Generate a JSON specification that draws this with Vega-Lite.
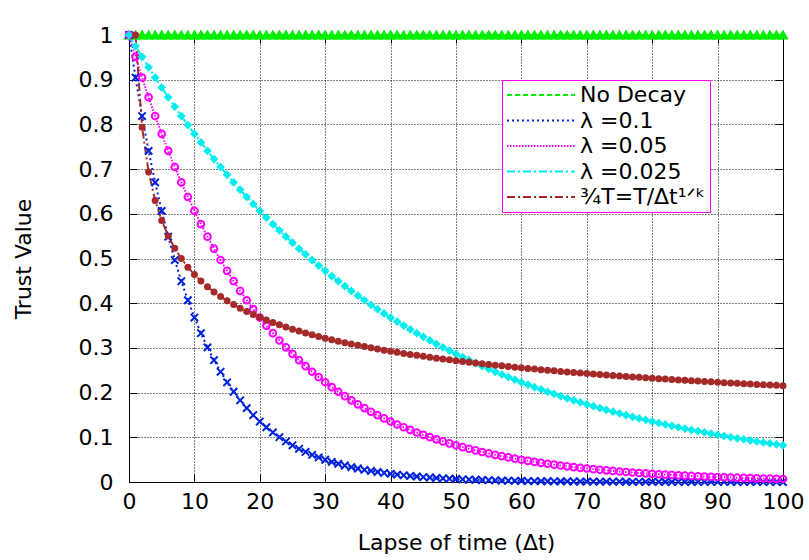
{
"$schema": "https://vega.github.io/schema/vega-lite/v6.json",
"width": 654, "height": 447,
"autosize": {"type": "none"},
"padding": {"left": 129, "top": 35, "right": 26, "bottom": 78},
"background": "white",
"config": {
  "view": {"stroke": "black", "strokeWidth": 1},
  "font": "DejaVu Sans",
  "legend": {"strokeWidth": 1, "strokeColor": "#ff00ff", "fillColor": "white"},
  "axis": {"labelFont": "DejaVu Sans", "titleFont": "DejaVu Sans", "labelFontSize": 22, "titleFontSize": 22, "titleFontWeight": "normal", "labelColor": "black", "titleColor": "black", "domainColor": "black", "tickColor": "black", "tickWidth": 1, "labelFlush": false, "labelOverlap": false}
},
"data": {"values": [
{"s":"nd","t":0,"v":1},{"s":"nd","t":1,"v":1},{"s":"nd","t":2,"v":1},{"s":"nd","t":3,"v":1},{"s":"nd","t":4,"v":1},{"s":"nd","t":5,"v":1},{"s":"nd","t":6,"v":1},{"s":"nd","t":7,"v":1},{"s":"nd","t":8,"v":1},{"s":"nd","t":9,"v":1},
{"s":"nd","t":10,"v":1},{"s":"nd","t":11,"v":1},{"s":"nd","t":12,"v":1},{"s":"nd","t":13,"v":1},{"s":"nd","t":14,"v":1},{"s":"nd","t":15,"v":1},{"s":"nd","t":16,"v":1},{"s":"nd","t":17,"v":1},{"s":"nd","t":18,"v":1},{"s":"nd","t":19,"v":1},
{"s":"nd","t":20,"v":1},{"s":"nd","t":21,"v":1},{"s":"nd","t":22,"v":1},{"s":"nd","t":23,"v":1},{"s":"nd","t":24,"v":1},{"s":"nd","t":25,"v":1},{"s":"nd","t":26,"v":1},{"s":"nd","t":27,"v":1},{"s":"nd","t":28,"v":1},{"s":"nd","t":29,"v":1},
{"s":"nd","t":30,"v":1},{"s":"nd","t":31,"v":1},{"s":"nd","t":32,"v":1},{"s":"nd","t":33,"v":1},{"s":"nd","t":34,"v":1},{"s":"nd","t":35,"v":1},{"s":"nd","t":36,"v":1},{"s":"nd","t":37,"v":1},{"s":"nd","t":38,"v":1},{"s":"nd","t":39,"v":1},
{"s":"nd","t":40,"v":1},{"s":"nd","t":41,"v":1},{"s":"nd","t":42,"v":1},{"s":"nd","t":43,"v":1},{"s":"nd","t":44,"v":1},{"s":"nd","t":45,"v":1},{"s":"nd","t":46,"v":1},{"s":"nd","t":47,"v":1},{"s":"nd","t":48,"v":1},{"s":"nd","t":49,"v":1},
{"s":"nd","t":50,"v":1},{"s":"nd","t":51,"v":1},{"s":"nd","t":52,"v":1},{"s":"nd","t":53,"v":1},{"s":"nd","t":54,"v":1},{"s":"nd","t":55,"v":1},{"s":"nd","t":56,"v":1},{"s":"nd","t":57,"v":1},{"s":"nd","t":58,"v":1},{"s":"nd","t":59,"v":1},
{"s":"nd","t":60,"v":1},{"s":"nd","t":61,"v":1},{"s":"nd","t":62,"v":1},{"s":"nd","t":63,"v":1},{"s":"nd","t":64,"v":1},{"s":"nd","t":65,"v":1},{"s":"nd","t":66,"v":1},{"s":"nd","t":67,"v":1},{"s":"nd","t":68,"v":1},{"s":"nd","t":69,"v":1},
{"s":"nd","t":70,"v":1},{"s":"nd","t":71,"v":1},{"s":"nd","t":72,"v":1},{"s":"nd","t":73,"v":1},{"s":"nd","t":74,"v":1},{"s":"nd","t":75,"v":1},{"s":"nd","t":76,"v":1},{"s":"nd","t":77,"v":1},{"s":"nd","t":78,"v":1},{"s":"nd","t":79,"v":1},
{"s":"nd","t":80,"v":1},{"s":"nd","t":81,"v":1},{"s":"nd","t":82,"v":1},{"s":"nd","t":83,"v":1},{"s":"nd","t":84,"v":1},{"s":"nd","t":85,"v":1},{"s":"nd","t":86,"v":1},{"s":"nd","t":87,"v":1},{"s":"nd","t":88,"v":1},{"s":"nd","t":89,"v":1},
{"s":"nd","t":90,"v":1},{"s":"nd","t":91,"v":1},{"s":"nd","t":92,"v":1},{"s":"nd","t":93,"v":1},{"s":"nd","t":94,"v":1},{"s":"nd","t":95,"v":1},{"s":"nd","t":96,"v":1},{"s":"nd","t":97,"v":1},{"s":"nd","t":98,"v":1},{"s":"nd","t":99,"v":1},{"s":"nd","t":100,"v":1},
{"s":"l1","t":0,"v":1},{"s":"l1","t":1,"v":0.9048},{"s":"l1","t":2,"v":0.8187},{"s":"l1","t":3,"v":0.7408},{"s":"l1","t":4,"v":0.6703},{"s":"l1","t":5,"v":0.6065},{"s":"l1","t":6,"v":0.5488},{"s":"l1","t":7,"v":0.4966},{"s":"l1","t":8,"v":0.4493},{"s":"l1","t":9,"v":0.4066},
{"s":"l1","t":10,"v":0.3679},{"s":"l1","t":11,"v":0.3329},{"s":"l1","t":12,"v":0.3012},{"s":"l1","t":13,"v":0.2725},{"s":"l1","t":14,"v":0.2466},{"s":"l1","t":15,"v":0.2231},{"s":"l1","t":16,"v":0.2019},{"s":"l1","t":17,"v":0.1827},{"s":"l1","t":18,"v":0.1653},{"s":"l1","t":19,"v":0.1496},
{"s":"l1","t":20,"v":0.1353},{"s":"l1","t":21,"v":0.1225},{"s":"l1","t":22,"v":0.1108},{"s":"l1","t":23,"v":0.1003},{"s":"l1","t":24,"v":0.0907},{"s":"l1","t":25,"v":0.0821},{"s":"l1","t":26,"v":0.0743},{"s":"l1","t":27,"v":0.0672},{"s":"l1","t":28,"v":0.0608},{"s":"l1","t":29,"v":0.055},
{"s":"l1","t":30,"v":0.0498},{"s":"l1","t":31,"v":0.045},{"s":"l1","t":32,"v":0.0408},{"s":"l1","t":33,"v":0.0369},{"s":"l1","t":34,"v":0.0334},{"s":"l1","t":35,"v":0.0302},{"s":"l1","t":36,"v":0.0273},{"s":"l1","t":37,"v":0.0247},{"s":"l1","t":38,"v":0.0224},{"s":"l1","t":39,"v":0.0202},
{"s":"l1","t":40,"v":0.0183},{"s":"l1","t":41,"v":0.0166},{"s":"l1","t":42,"v":0.015},{"s":"l1","t":43,"v":0.0136},{"s":"l1","t":44,"v":0.0123},{"s":"l1","t":45,"v":0.0111},{"s":"l1","t":46,"v":0.0101},{"s":"l1","t":47,"v":0.0091},{"s":"l1","t":48,"v":0.0082},{"s":"l1","t":49,"v":0.0074},
{"s":"l1","t":50,"v":0.0067},{"s":"l1","t":51,"v":0.0061},{"s":"l1","t":52,"v":0.0055},{"s":"l1","t":53,"v":0.005},{"s":"l1","t":54,"v":0.0045},{"s":"l1","t":55,"v":0.0041},{"s":"l1","t":56,"v":0.0037},{"s":"l1","t":57,"v":0.0033},{"s":"l1","t":58,"v":0.003},{"s":"l1","t":59,"v":0.0027},
{"s":"l1","t":60,"v":0.0025},{"s":"l1","t":61,"v":0.0022},{"s":"l1","t":62,"v":0.002},{"s":"l1","t":63,"v":0.0018},{"s":"l1","t":64,"v":0.0017},{"s":"l1","t":65,"v":0.0015},{"s":"l1","t":66,"v":0.0014},{"s":"l1","t":67,"v":0.0012},{"s":"l1","t":68,"v":0.0011},{"s":"l1","t":69,"v":0.001},
{"s":"l1","t":70,"v":0.0009},{"s":"l1","t":71,"v":0.0008},{"s":"l1","t":72,"v":0.0007},{"s":"l1","t":73,"v":0.0007},{"s":"l1","t":74,"v":0.0006},{"s":"l1","t":75,"v":0.0006},{"s":"l1","t":76,"v":0.0005},{"s":"l1","t":77,"v":0.0005},{"s":"l1","t":78,"v":0.0004},{"s":"l1","t":79,"v":0.0004},
{"s":"l1","t":80,"v":0.0003},{"s":"l1","t":81,"v":0.0003},{"s":"l1","t":82,"v":0.0003},{"s":"l1","t":83,"v":0.0002},{"s":"l1","t":84,"v":0.0002},{"s":"l1","t":85,"v":0.0002},{"s":"l1","t":86,"v":0.0002},{"s":"l1","t":87,"v":0.0002},{"s":"l1","t":88,"v":0.0002},{"s":"l1","t":89,"v":0.0001},
{"s":"l1","t":90,"v":0.0001},{"s":"l1","t":91,"v":0.0001},{"s":"l1","t":92,"v":0.0001},{"s":"l1","t":93,"v":0.0001},{"s":"l1","t":94,"v":0.0001},{"s":"l1","t":95,"v":0.0001},{"s":"l1","t":96,"v":0.0001},{"s":"l1","t":97,"v":0.0001},{"s":"l1","t":98,"v":0.0001},{"s":"l1","t":99,"v":0.0001},{"s":"l1","t":100,"v":0},
{"s":"l2","t":0,"v":1},{"s":"l2","t":1,"v":0.9512},{"s":"l2","t":2,"v":0.9048},{"s":"l2","t":3,"v":0.8607},{"s":"l2","t":4,"v":0.8187},{"s":"l2","t":5,"v":0.7788},{"s":"l2","t":6,"v":0.7408},{"s":"l2","t":7,"v":0.7047},{"s":"l2","t":8,"v":0.6703},{"s":"l2","t":9,"v":0.6376},
{"s":"l2","t":10,"v":0.6065},{"s":"l2","t":11,"v":0.5769},{"s":"l2","t":12,"v":0.5488},{"s":"l2","t":13,"v":0.522},{"s":"l2","t":14,"v":0.4966},{"s":"l2","t":15,"v":0.4724},{"s":"l2","t":16,"v":0.4493},{"s":"l2","t":17,"v":0.4274},{"s":"l2","t":18,"v":0.4066},{"s":"l2","t":19,"v":0.3867},
{"s":"l2","t":20,"v":0.3679},{"s":"l2","t":21,"v":0.3499},{"s":"l2","t":22,"v":0.3329},{"s":"l2","t":23,"v":0.3166},{"s":"l2","t":24,"v":0.3012},{"s":"l2","t":25,"v":0.2865},{"s":"l2","t":26,"v":0.2725},{"s":"l2","t":27,"v":0.2592},{"s":"l2","t":28,"v":0.2466},{"s":"l2","t":29,"v":0.2346},
{"s":"l2","t":30,"v":0.2231},{"s":"l2","t":31,"v":0.2122},{"s":"l2","t":32,"v":0.2019},{"s":"l2","t":33,"v":0.192},{"s":"l2","t":34,"v":0.1827},{"s":"l2","t":35,"v":0.1738},{"s":"l2","t":36,"v":0.1653},{"s":"l2","t":37,"v":0.1572},{"s":"l2","t":38,"v":0.1496},{"s":"l2","t":39,"v":0.1423},
{"s":"l2","t":40,"v":0.1353},{"s":"l2","t":41,"v":0.1287},{"s":"l2","t":42,"v":0.1225},{"s":"l2","t":43,"v":0.1165},{"s":"l2","t":44,"v":0.1108},{"s":"l2","t":45,"v":0.1054},{"s":"l2","t":46,"v":0.1003},{"s":"l2","t":47,"v":0.0954},{"s":"l2","t":48,"v":0.0907},{"s":"l2","t":49,"v":0.0863},
{"s":"l2","t":50,"v":0.0821},{"s":"l2","t":51,"v":0.0781},{"s":"l2","t":52,"v":0.0743},{"s":"l2","t":53,"v":0.0707},{"s":"l2","t":54,"v":0.0672},{"s":"l2","t":55,"v":0.0639},{"s":"l2","t":56,"v":0.0608},{"s":"l2","t":57,"v":0.0578},{"s":"l2","t":58,"v":0.055},{"s":"l2","t":59,"v":0.0523},
{"s":"l2","t":60,"v":0.0498},{"s":"l2","t":61,"v":0.0474},{"s":"l2","t":62,"v":0.045},{"s":"l2","t":63,"v":0.0429},{"s":"l2","t":64,"v":0.0408},{"s":"l2","t":65,"v":0.0388},{"s":"l2","t":66,"v":0.0369},{"s":"l2","t":67,"v":0.0351},{"s":"l2","t":68,"v":0.0334},{"s":"l2","t":69,"v":0.0317},
{"s":"l2","t":70,"v":0.0302},{"s":"l2","t":71,"v":0.0287},{"s":"l2","t":72,"v":0.0273},{"s":"l2","t":73,"v":0.026},{"s":"l2","t":74,"v":0.0247},{"s":"l2","t":75,"v":0.0235},{"s":"l2","t":76,"v":0.0224},{"s":"l2","t":77,"v":0.0213},{"s":"l2","t":78,"v":0.0202},{"s":"l2","t":79,"v":0.0193},
{"s":"l2","t":80,"v":0.0183},{"s":"l2","t":81,"v":0.0174},{"s":"l2","t":82,"v":0.0166},{"s":"l2","t":83,"v":0.0158},{"s":"l2","t":84,"v":0.015},{"s":"l2","t":85,"v":0.0143},{"s":"l2","t":86,"v":0.0136},{"s":"l2","t":87,"v":0.0129},{"s":"l2","t":88,"v":0.0123},{"s":"l2","t":89,"v":0.0117},
{"s":"l2","t":90,"v":0.0111},{"s":"l2","t":91,"v":0.0106},{"s":"l2","t":92,"v":0.0101},{"s":"l2","t":93,"v":0.0096},{"s":"l2","t":94,"v":0.0091},{"s":"l2","t":95,"v":0.0087},{"s":"l2","t":96,"v":0.0082},{"s":"l2","t":97,"v":0.0078},{"s":"l2","t":98,"v":0.0074},{"s":"l2","t":99,"v":0.0071},{"s":"l2","t":100,"v":0.0067},
{"s":"l3","t":0,"v":1},{"s":"l3","t":1,"v":0.9753},{"s":"l3","t":2,"v":0.9512},{"s":"l3","t":3,"v":0.9277},{"s":"l3","t":4,"v":0.9048},{"s":"l3","t":5,"v":0.8825},{"s":"l3","t":6,"v":0.8607},{"s":"l3","t":7,"v":0.8395},{"s":"l3","t":8,"v":0.8187},{"s":"l3","t":9,"v":0.7985},
{"s":"l3","t":10,"v":0.7788},{"s":"l3","t":11,"v":0.7596},{"s":"l3","t":12,"v":0.7408},{"s":"l3","t":13,"v":0.7225},{"s":"l3","t":14,"v":0.7047},{"s":"l3","t":15,"v":0.6873},{"s":"l3","t":16,"v":0.6703},{"s":"l3","t":17,"v":0.6538},{"s":"l3","t":18,"v":0.6376},{"s":"l3","t":19,"v":0.6219},
{"s":"l3","t":20,"v":0.6065},{"s":"l3","t":21,"v":0.5916},{"s":"l3","t":22,"v":0.5769},{"s":"l3","t":23,"v":0.5627},{"s":"l3","t":24,"v":0.5488},{"s":"l3","t":25,"v":0.5353},{"s":"l3","t":26,"v":0.522},{"s":"l3","t":27,"v":0.5092},{"s":"l3","t":28,"v":0.4966},{"s":"l3","t":29,"v":0.4843},
{"s":"l3","t":30,"v":0.4724},{"s":"l3","t":31,"v":0.4607},{"s":"l3","t":32,"v":0.4493},{"s":"l3","t":33,"v":0.4382},{"s":"l3","t":34,"v":0.4274},{"s":"l3","t":35,"v":0.4169},{"s":"l3","t":36,"v":0.4066},{"s":"l3","t":37,"v":0.3965},{"s":"l3","t":38,"v":0.3867},{"s":"l3","t":39,"v":0.3772},
{"s":"l3","t":40,"v":0.3679},{"s":"l3","t":41,"v":0.3588},{"s":"l3","t":42,"v":0.3499},{"s":"l3","t":43,"v":0.3413},{"s":"l3","t":44,"v":0.3329},{"s":"l3","t":45,"v":0.3247},{"s":"l3","t":46,"v":0.3166},{"s":"l3","t":47,"v":0.3088},{"s":"l3","t":48,"v":0.3012},{"s":"l3","t":49,"v":0.2938},
{"s":"l3","t":50,"v":0.2865},{"s":"l3","t":51,"v":0.2794},{"s":"l3","t":52,"v":0.2725},{"s":"l3","t":53,"v":0.2658},{"s":"l3","t":54,"v":0.2592},{"s":"l3","t":55,"v":0.2528},{"s":"l3","t":56,"v":0.2466},{"s":"l3","t":57,"v":0.2405},{"s":"l3","t":58,"v":0.2346},{"s":"l3","t":59,"v":0.2288},
{"s":"l3","t":60,"v":0.2231},{"s":"l3","t":61,"v":0.2176},{"s":"l3","t":62,"v":0.2122},{"s":"l3","t":63,"v":0.207},{"s":"l3","t":64,"v":0.2019},{"s":"l3","t":65,"v":0.1969},{"s":"l3","t":66,"v":0.192},{"s":"l3","t":67,"v":0.1873},{"s":"l3","t":68,"v":0.1827},{"s":"l3","t":69,"v":0.1782},
{"s":"l3","t":70,"v":0.1738},{"s":"l3","t":71,"v":0.1695},{"s":"l3","t":72,"v":0.1653},{"s":"l3","t":73,"v":0.1612},{"s":"l3","t":74,"v":0.1572},{"s":"l3","t":75,"v":0.1534},{"s":"l3","t":76,"v":0.1496},{"s":"l3","t":77,"v":0.1459},{"s":"l3","t":78,"v":0.1423},{"s":"l3","t":79,"v":0.1388},
{"s":"l3","t":80,"v":0.1353},{"s":"l3","t":81,"v":0.132},{"s":"l3","t":82,"v":0.1287},{"s":"l3","t":83,"v":0.1256},{"s":"l3","t":84,"v":0.1225},{"s":"l3","t":85,"v":0.1194},{"s":"l3","t":86,"v":0.1165},{"s":"l3","t":87,"v":0.1136},{"s":"l3","t":88,"v":0.1108},{"s":"l3","t":89,"v":0.1081},
{"s":"l3","t":90,"v":0.1054},{"s":"l3","t":91,"v":0.1028},{"s":"l3","t":92,"v":0.1003},{"s":"l3","t":93,"v":0.0978},{"s":"l3","t":94,"v":0.0954},{"s":"l3","t":95,"v":0.093},{"s":"l3","t":96,"v":0.0907},{"s":"l3","t":97,"v":0.0885},{"s":"l3","t":98,"v":0.0863},{"s":"l3","t":99,"v":0.0842},{"s":"l3","t":100,"v":0.0821},
{"s":"pw","t":1,"v":1},{"s":"pw","t":2,"v":0.7937},{"s":"pw","t":3,"v":0.6934},{"s":"pw","t":4,"v":0.63},{"s":"pw","t":5,"v":0.5848},{"s":"pw","t":6,"v":0.5503},{"s":"pw","t":7,"v":0.5228},{"s":"pw","t":8,"v":0.5},{"s":"pw","t":9,"v":0.4807},
{"s":"pw","t":10,"v":0.4642},{"s":"pw","t":11,"v":0.4496},{"s":"pw","t":12,"v":0.4368},{"s":"pw","t":13,"v":0.4253},{"s":"pw","t":14,"v":0.4149},{"s":"pw","t":15,"v":0.4055},{"s":"pw","t":16,"v":0.3969},{"s":"pw","t":17,"v":0.3889},{"s":"pw","t":18,"v":0.3816},{"s":"pw","t":19,"v":0.3748},
{"s":"pw","t":20,"v":0.3684},{"s":"pw","t":21,"v":0.3625},{"s":"pw","t":22,"v":0.3569},{"s":"pw","t":23,"v":0.3516},{"s":"pw","t":24,"v":0.3467},{"s":"pw","t":25,"v":0.342},{"s":"pw","t":26,"v":0.3376},{"s":"pw","t":27,"v":0.3333},{"s":"pw","t":28,"v":0.3293},{"s":"pw","t":29,"v":0.3255},
{"s":"pw","t":30,"v":0.3218},{"s":"pw","t":31,"v":0.3183},{"s":"pw","t":32,"v":0.315},{"s":"pw","t":33,"v":0.3118},{"s":"pw","t":34,"v":0.3087},{"s":"pw","t":35,"v":0.3057},{"s":"pw","t":36,"v":0.3029},{"s":"pw","t":37,"v":0.3001},{"s":"pw","t":38,"v":0.2974},{"s":"pw","t":39,"v":0.2949},
{"s":"pw","t":40,"v":0.2924},{"s":"pw","t":41,"v":0.29},{"s":"pw","t":42,"v":0.2877},{"s":"pw","t":43,"v":0.2854},{"s":"pw","t":44,"v":0.2833},{"s":"pw","t":45,"v":0.2811},{"s":"pw","t":46,"v":0.2791},{"s":"pw","t":47,"v":0.2771},{"s":"pw","t":48,"v":0.2752},{"s":"pw","t":49,"v":0.2733},
{"s":"pw","t":50,"v":0.2714},{"s":"pw","t":51,"v":0.2697},{"s":"pw","t":52,"v":0.2679},{"s":"pw","t":53,"v":0.2662},{"s":"pw","t":54,"v":0.2646},{"s":"pw","t":55,"v":0.263},{"s":"pw","t":56,"v":0.2614},{"s":"pw","t":57,"v":0.2598},{"s":"pw","t":58,"v":0.2583},{"s":"pw","t":59,"v":0.2569},
{"s":"pw","t":60,"v":0.2554},{"s":"pw","t":61,"v":0.254},{"s":"pw","t":62,"v":0.2527},{"s":"pw","t":63,"v":0.2513},{"s":"pw","t":64,"v":0.25},{"s":"pw","t":65,"v":0.2487},{"s":"pw","t":66,"v":0.2474},{"s":"pw","t":67,"v":0.2462},{"s":"pw","t":68,"v":0.245},{"s":"pw","t":69,"v":0.2438},
{"s":"pw","t":70,"v":0.2426},{"s":"pw","t":71,"v":0.2415},{"s":"pw","t":72,"v":0.2404},{"s":"pw","t":73,"v":0.2393},{"s":"pw","t":74,"v":0.2382},{"s":"pw","t":75,"v":0.2371},{"s":"pw","t":76,"v":0.2361},{"s":"pw","t":77,"v":0.2351},{"s":"pw","t":78,"v":0.2341},{"s":"pw","t":79,"v":0.2331},
{"s":"pw","t":80,"v":0.2321},{"s":"pw","t":81,"v":0.2311},{"s":"pw","t":82,"v":0.2302},{"s":"pw","t":83,"v":0.2293},{"s":"pw","t":84,"v":0.2283},{"s":"pw","t":85,"v":0.2274},{"s":"pw","t":86,"v":0.2266},{"s":"pw","t":87,"v":0.2257},{"s":"pw","t":88,"v":0.2248},{"s":"pw","t":89,"v":0.224},
{"s":"pw","t":90,"v":0.2231},{"s":"pw","t":91,"v":0.2223},{"s":"pw","t":92,"v":0.2215},{"s":"pw","t":93,"v":0.2207},{"s":"pw","t":94,"v":0.2199},{"s":"pw","t":95,"v":0.2192},{"s":"pw","t":96,"v":0.2184},{"s":"pw","t":97,"v":0.2176},{"s":"pw","t":98,"v":0.2169},{"s":"pw","t":99,"v":0.2162},{"s":"pw","t":100,"v":0.2154}
]},
"layer": [
 {
  "mark": {"type": "line", "strokeWidth": 2, "clip": false},
  "encoding": {
    "x": {"field": "t", "type": "quantitative", "scale": {"domain": [0, 100], "nice": false},
      "axis": {"orient": "bottom", "title": "Lapse of time (Δt)", "titlePadding": 20,
        "values": [0,10,20,30,40,50,60,70,80,90,100], "format": "d",
        "tickSize": -8, "labelPadding": 17,
        "grid": true, "gridColor": "black", "gridDash": [1, 2], "gridWidth": 1}},
    "y": {"field": "v", "type": "quantitative", "scale": {"domain": [0, 1], "nice": false},
      "axis": {"orient": "left", "title": "Trust Value", "titlePadding": 43,
        "values": [0,0.1,0.2,0.3,0.4,0.5,0.6,0.7,0.8,0.9,1], "format": "~g",
        "tickSize": -8, "labelPadding": 24,
        "grid": true, "gridColor": "black", "gridDash": [1, 2], "gridWidth": 1}},
    "color": {"field": "s", "type": "nominal",
      "scale": {"domain": ["nd", "l1", "l2", "l3", "pw"], "range": ["#00ee00", "#0022dd", "#ff00ff", "#00eeee", "#a52a2a"]},
      "legend": {
        "orient": "none", "legendX": 373, "legendY": 45, "title": null,
        "labelExpr": "datum.value === 'nd' ? 'No Decay' : datum.value === 'l1' ? 'λ =0.1' : datum.value === 'l2' ? 'λ =0.05' : datum.value === 'l3' ? 'λ =0.025' : '¾T=T/Δt¹ᐟᵏ'",
        "labelFont": "DejaVu Sans", "labelFontSize": 22, "labelLimit": 300, "labelColor": "black",
        "padding": 4, "rowPadding": 3.5, "clipHeight": 22,
        "symbolType": "stroke", "symbolStrokeWidth": 2, "symbolSize": 4624}},
    "strokeDash": {"field": "s", "type": "nominal",
      "scale": {"domain": ["nd", "l1", "l2", "l3", "pw"], "range": [[5, 3], [2, 3], [1.5, 1.5], [8, 3, 2, 3], [8, 3, 2, 3]]},
      "legend": null}
  }
 },
 {
  "mark": {"type": "point", "opacity": 1, "clip": false, "strokeWidth": 2},
  "encoding": {
    "x": {"field": "t", "type": "quantitative",
      "axis": {"orient": "top", "title": null, "labels": false, "grid": false,
        "values": [0,10,20,30,40,50,60,70,80,90,100], "tickSize": -8}},
    "y": {"field": "v", "type": "quantitative",
      "axis": {"orient": "right", "title": null, "labels": false, "grid": false,
        "values": [0,0.1,0.2,0.3,0.4,0.5,0.6,0.7,0.8,0.9,1], "tickSize": -8}},
    "shape": {"field": "s", "type": "nominal", "legend": null,
      "scale": {"domain": ["pw", "l3", "l2", "l1", "nd"], "range": ["circle", "diamond", "circle", "M-1,-1L1,1M-1,1L1,-1", "triangle-up"]}},
    "size": {"field": "s", "type": "nominal", "legend": null,
      "scale": {"domain": ["pw", "l3", "l2", "l1", "nd"], "range": [25, 64, 60, 60, 50]}},
    "stroke": {"field": "s", "type": "nominal", "legend": null,
      "scale": {"domain": ["pw", "l3", "l2", "l1", "nd"], "range": ["#a52a2a", "#00eeee", "#ff00ff", "#0022dd", "#00ee00"]}},
    "fill": {"field": "s", "type": "nominal", "legend": null,
      "scale": {"domain": ["pw", "l3", "l2", "l1", "nd"], "range": ["#a52a2a", "#00eeee", "transparent", "transparent", "#00ee00"]}}
  }
 }
],
"resolve": {"axis": {"x": "independent", "y": "independent"}}
}
